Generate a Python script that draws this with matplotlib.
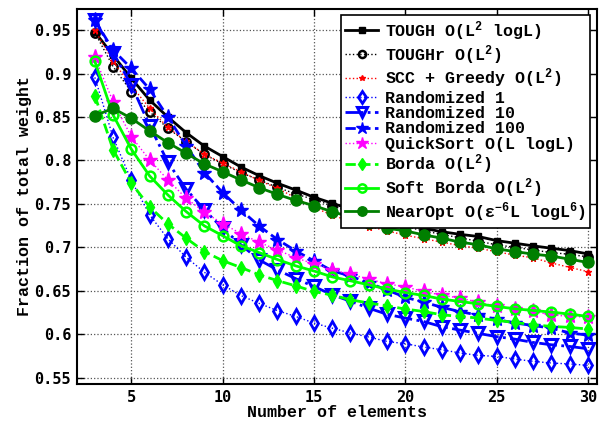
import numpy as np
import matplotlib
matplotlib.use('agg')
import matplotlib.pyplot as plt

plt.rcParams['mathtext.fontset'] = 'custom'
plt.rcParams['mathtext.rm'] = 'Liberation Mono:bold'
plt.rcParams['mathtext.it'] = 'Liberation Mono:bold'
plt.rcParams['mathtext.bf'] = 'Liberation Mono:bold'

n_elements = list(range(3, 31))

tough = [0.948, 0.921, 0.8945, 0.8695, 0.850, 0.832, 0.8165, 0.8045, 0.7925, 0.7825,
         0.7738, 0.766, 0.7577, 0.7508, 0.744, 0.738, 0.732, 0.727, 0.722, 0.718,
         0.715, 0.7125, 0.7078, 0.7048, 0.7017, 0.699, 0.6963, 0.6925]
toughr = [0.947, 0.908, 0.879, 0.856, 0.837, 0.8216, 0.807, 0.796, 0.786, 0.7776,
          0.769, 0.7615, 0.755, 0.748, 0.741, 0.735, 0.729, 0.724, 0.719, 0.715,
          0.711, 0.707, 0.703, 0.700, 0.697, 0.694, 0.692, 0.689]
scc_greedy = [0.950, 0.914, 0.886, 0.860, 0.838, 0.822, 0.807, 0.797, 0.787, 0.777,
              0.768, 0.757, 0.746, 0.737, 0.730, 0.724, 0.719, 0.714, 0.710, 0.706,
              0.702, 0.699, 0.695, 0.691, 0.688, 0.682, 0.677, 0.672]
rand1 = [0.8956, 0.8265, 0.777, 0.7374, 0.7098, 0.6887, 0.6713, 0.6569, 0.6445, 0.6355,
         0.6272, 0.6205, 0.6129, 0.607, 0.6014, 0.5968, 0.5917, 0.5891, 0.5853, 0.5822,
         0.5784, 0.5757, 0.5745, 0.5715, 0.5688, 0.5669, 0.5658, 0.5642]
rand10 = [0.962, 0.924, 0.887, 0.840, 0.798, 0.767, 0.743, 0.722, 0.703, 0.6856,
          0.674, 0.664, 0.655, 0.6454, 0.638, 0.630, 0.623, 0.6186, 0.6147, 0.6087,
          0.6048, 0.601, 0.5973, 0.5944, 0.5906, 0.5879, 0.586, 0.5833]
rand100 = [0.9615, 0.927, 0.906, 0.882, 0.850, 0.817, 0.786, 0.763, 0.743, 0.7245,
           0.709, 0.696, 0.6845, 0.673, 0.667, 0.659, 0.651, 0.6425, 0.637, 0.631,
           0.626, 0.622, 0.617, 0.613, 0.610, 0.607, 0.6015, 0.599]
quicksort = [0.9186, 0.8676, 0.8274, 0.8006, 0.7776, 0.7565, 0.7405, 0.7274, 0.7158, 0.7058,
             0.6971, 0.688, 0.681, 0.674, 0.669, 0.6636, 0.658, 0.6546, 0.6492, 0.645,
             0.6416, 0.637, 0.632, 0.629, 0.6262, 0.6224, 0.6205, 0.6197]
borda = [0.8745, 0.8125, 0.774, 0.7466, 0.727, 0.7106, 0.6952, 0.6847, 0.6768, 0.6684,
         0.6617, 0.6557, 0.6492, 0.645, 0.6397, 0.6359, 0.6328, 0.629, 0.6262, 0.6224,
         0.6205, 0.6186, 0.6159, 0.6136, 0.6109, 0.609, 0.6079, 0.606]
soft_borda = [0.914, 0.8523, 0.8129, 0.7822, 0.7603, 0.7412, 0.7247, 0.7134, 0.7018, 0.694,
              0.686, 0.6787, 0.6728, 0.666, 0.6615, 0.6569, 0.652, 0.648, 0.6446, 0.6405,
              0.6377, 0.635, 0.632, 0.6293, 0.6274, 0.6255, 0.6232, 0.6205]
near_opt = [0.8515, 0.860, 0.8485, 0.834, 0.8205, 0.8083, 0.796, 0.787, 0.7776, 0.7687,
            0.761, 0.754, 0.748, 0.741, 0.735, 0.728, 0.722, 0.719, 0.7144, 0.7106,
            0.706, 0.703, 0.6983, 0.6952, 0.6922, 0.690, 0.6864, 0.6826]

labels = ['TOUGH O(L$^2$ logL)', 'TOUGHr O(L$^2$)', 'SCC + Greedy O(L$^2$)',
          'Randomized 1', 'Randomized 10', 'Randomized 100',
          'QuickSort O(L logL)', 'Borda O(L$^2$)', 'Soft Borda O(L$^2$)',
          'NearOpt O(ε$^{-6}$L logL$^6$)']

xticks = [5, 10, 15, 20, 25, 30]
yticks = [0.55, 0.6, 0.65, 0.7, 0.75, 0.8, 0.85, 0.9, 0.95]
ytick_labels = ['0.55', '0.6', '0.65', '0.7', '0.75', '0.8', '0.85', '0.9', '0.95']

green = '#00ff00'
dkgreen = '#007f00'
magenta = '#ff00ff'
blue = '#0000ff'
red = '#ff0000'

fig = plt.figure(figsize=(6.03, 4.21), dpi=100)
ax = fig.add_axes([0.127, 0.088, 0.863, 0.891])

x = np.array(n_elements)
ax.plot(x, tough, '-s', color='k', lw=2, ms=5, mfc='k', mec='k', label=labels[0])
ax.plot(x, toughr, ':o', color='k', lw=1, ms=6, mfc='none', mec='k', mew=1.8, label=labels[1])
ax.plot(x, scc_greedy, ':*', color=red, lw=1, ms=5, mfc=red, mec=red, label=labels[2])
ax.plot(x, rand1, ':d', color=blue, lw=1, ms=7, mfc='none', mec=blue, mew=2, label=labels[3])
ax.plot(x, rand10, '-.v', color=blue, lw=2, ms=8, mfc='none', mec=blue, mew=2.2, label=labels[4])
ax.plot(x, rand100, '--*', color=blue, lw=2, ms=11, mfc=blue, mec=blue, label=labels[5])
ax.plot(x, quicksort, ':*', color=magenta, lw=1, ms=11, mfc=magenta, mec=magenta, label=labels[6])
ax.plot(x, borda, '--d', color=green, lw=2, ms=7, mfc=green, mec=green, label=labels[7])
ax.plot(x, soft_borda, '-o', color=green, lw=2, ms=7, mfc='none', mec=green, mew=1.8, label=labels[8])
ax.plot(x, near_opt, '-o', color=dkgreen, lw=2, ms=8, mfc=dkgreen, mec=dkgreen, label=labels[9])

ax.set_xlim(2, 30.5)
ax.set_ylim(0.5428, 0.9745)
ax.set_xticks(xticks)
ax.set_xticklabels([str(t) for t in xticks], family='DejaVu Sans Mono', weight='bold', fontsize=11)
ax.set_yticks(yticks)
ax.set_yticklabels(ytick_labels, family='DejaVu Sans Mono', weight='bold', fontsize=11)
ax.tick_params(direction='in', top=True, right=True, length=5, width=1, pad=4)
ax.grid(True, linestyle=':', color='#555555', lw=0.9)
for s in ax.spines.values():
    s.set_linewidth(1.5)

ax.set_xlabel('Number of elements', family='Liberation Mono', weight='bold', fontsize=12, labelpad=0)
ax.set_ylabel('Fraction of total weight', family='Liberation Mono', weight='bold', fontsize=12, labelpad=2)

leg = ax.legend(loc='upper right', bbox_to_anchor=(0.9866, 0.984), borderaxespad=0,
                prop={'family': 'Liberation Mono', 'weight': 'bold', 'size': 12},
                fancybox=False, edgecolor='k', framealpha=1, labelspacing=0.02,
                handlelength=2.0, handletextpad=0.4, borderpad=0.25, markerscale=0.85)
leg.get_frame().set_linewidth(1.2)

plt.savefig('out.png', dpi=100)
